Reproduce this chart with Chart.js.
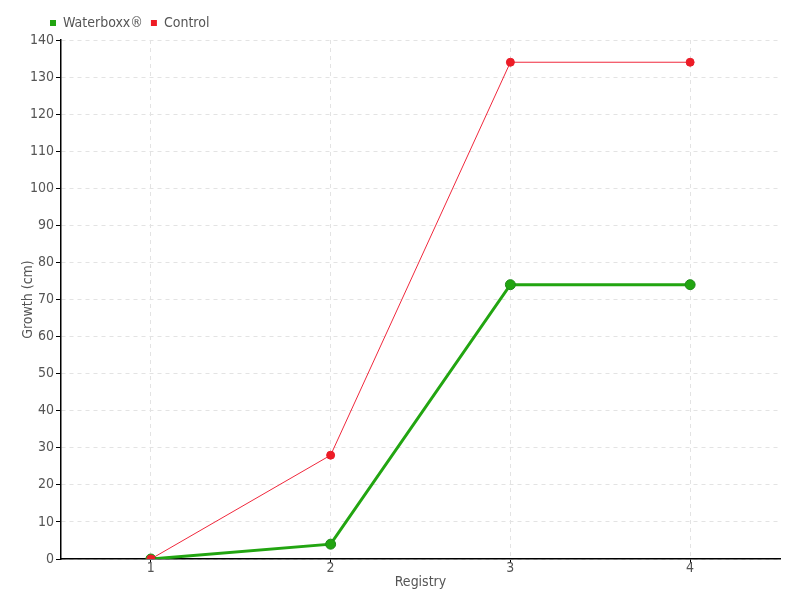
<!DOCTYPE html>
<html><head><meta charset="utf-8">
<script src="https://cdn.jsdelivr.net/npm/chart.js@4/dist/chart.umd.min.js"></script>
<style>html,body{margin:0;padding:0;background:#fff}#w{width:800px;height:600px}</style>
</head><body><div id="w"><canvas id="c"></canvas></div>
<script>
const categories = ["1","2","3","4"];
const waterboxx = [0, 4, 74, 74];
const control = [0, 28, 134, 134];
const seriesNames = ["Waterboxx®", "Control"];
const FONT = "'DejaVu Sans Condensed', 'Liberation Sans Narrow', sans-serif";
Chart.defaults.font.family = FONT;
Chart.defaults.font.size = 14;
Chart.defaults.color = '#555';
const legendShift = {
  id: 'legendShift',
  afterLayout(chart) { if (chart.legend) { chart.legend.left += 42; } }
};
new Chart(document.getElementById('c'), {
  type: 'line',
  data: {
    labels: categories,
    datasets: [
      {label: seriesNames[0], data: waterboxx, borderColor: '#22a511', backgroundColor: '#22a511',
       borderWidth: 3, pointRadius: 5, pointBackgroundColor: '#22a511', pointBorderColor: '#1f8a1a', pointBorderWidth: 1, order: 2, tension: 0},
      {label: seriesNames[1], data: control, borderColor: '#f0283c', backgroundColor: '#ee1c25',
       borderWidth: 1, pointRadius: 4, pointBackgroundColor: '#ee1c25', pointBorderColor: '#e81c2a', pointBorderWidth: 1, order: 1, tension: 0}
    ]
  },
  plugins: [legendShift],
  options: {
    responsive: true, maintainAspectRatio: false, animation: false,
    layout: {padding: {left: 0, right: 20, top: 8, bottom: 0}},
    plugins: {
      tooltip: {enabled: false},
      legend: {position: 'top', align: 'start',
        labels: {boxWidth: 6, boxHeight: 6, padding: 8, color: '#555', font: {size: 14},
          generateLabels: (chart) => Chart.defaults.plugins.legend.labels.generateLabels(chart).map(l => Object.assign(l, {lineWidth: 0})),
          sort: (a, b) => a.datasetIndex - b.datasetIndex}}
    },
    scales: {
      x: {
        offset: true,
        title: {display: true, text: 'Registry', color: '#555', padding: {top: 0, bottom: 9}},
        grid: {color: '#e3e3e3', tickColor: '#000', tickLength: 4, offset: false},
        border: {color: '#000', width: 1.5, dash: [4,4]},
        ticks: {color: '#555', padding: -3},
        afterFit: s => { s.height = 41; }
      },
      y: {
        min: 0, max: 140,
        title: {display: true, text: 'Growth (cm)', color: '#555', padding: {top: 20, bottom: 0}},
        grid: {color: '#e3e3e3', tickColor: '#000', tickLength: 5},
        border: {color: '#000', width: 1.5, dash: [4,4]},
        ticks: {stepSize: 10, color: '#555', padding: 2},
        afterFit: s => { s.width = 61; }
      }
    }
  }
});
</script></body></html>
